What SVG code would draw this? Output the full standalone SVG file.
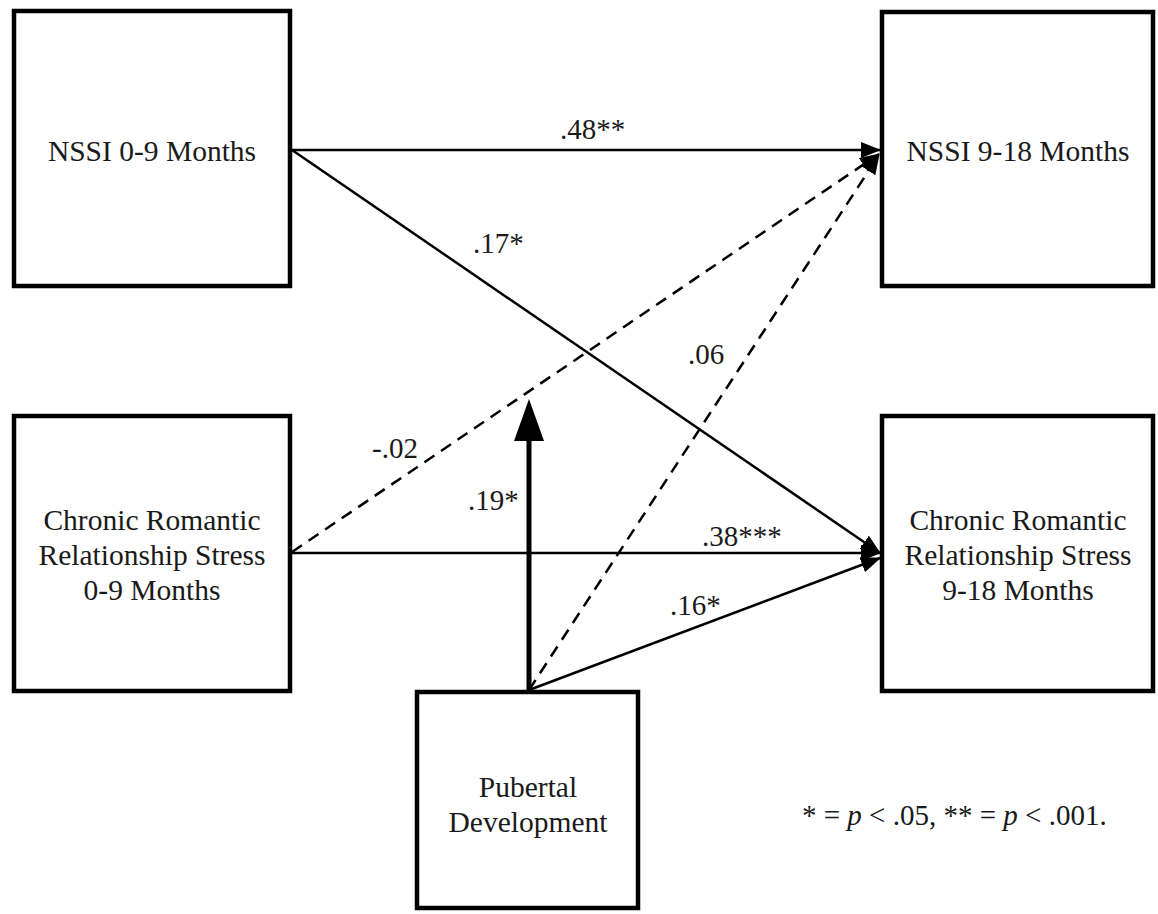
<svg xmlns="http://www.w3.org/2000/svg" width="1158" height="914" viewBox="0 0 1158 914">
<style>
.box{fill:#fff;stroke:#000;stroke-width:4.5}
.t{font-family:"Liberation Serif","Times New Roman",serif;font-size:29.5px;fill:#1a1a1a;text-anchor:middle}
.lbl{font-family:"Liberation Serif","Times New Roman",serif;font-size:29px;fill:#1a1a1a}
.solid{stroke:#000;stroke-width:2.5;fill:none}
.dash{stroke:#000;stroke-width:2.5;fill:none;stroke-dasharray:12,8}
</style>
<defs>
<marker id="ah" markerUnits="userSpaceOnUse" markerWidth="20" markerHeight="16" refX="19" refY="8" orient="auto">
<path d="M0,0 L20,8 L0,16 z" fill="#000"/>
</marker>
</defs>
<rect width="1158" height="914" fill="#fff"/>
<g id="connectors">
<line class="solid" x1="292" y1="150" x2="880" y2="150" marker-end="url(#ah)"/>
<line class="solid" x1="292" y1="150" x2="880" y2="553" marker-end="url(#ah)"/>
<line class="dash" x1="292" y1="552" x2="879" y2="154" marker-end="url(#ah)"/>
<line class="solid" x1="292" y1="553" x2="880" y2="553" marker-end="url(#ah)"/>
<line class="dash" x1="529" y1="690" x2="879" y2="155" marker-end="url(#ah)"/>
<line class="solid" x1="529" y1="690" x2="880" y2="558" marker-end="url(#ah)"/>
<line x1="529" y1="692" x2="529" y2="435" stroke="#000" stroke-width="5"/>
<polygon points="529,399 544,441 514,441" fill="#000"/>
</g>
<g id="labels">
<text class="lbl" x="560" y="139">.48**</text>
<text class="lbl" x="473" y="253">.17*</text>
<text class="lbl" x="688" y="364">.06</text>
<text class="lbl" x="372" y="458">-.02</text>
<text class="lbl" x="468" y="510">.19*</text>
<text class="lbl" x="702" y="546">.38***</text>
<text class="lbl" x="670" y="615">.16*</text>
</g>
<g id="nssi09">
<rect class="box" x="14" y="11" width="276" height="275"/>
<text class="t" x="152" y="161">NSSI 0-9 Months</text>
</g>
<g id="nssi918">
<rect class="box" x="882" y="12" width="271" height="274"/>
<text class="t" x="1018" y="161">NSSI 9-18 Months</text>
</g>
<g id="crs09">
<rect class="box" x="14" y="416" width="276" height="275"/>
<text class="t" x="152" y="530">Chronic Romantic</text>
<text class="t" x="152" y="565">Relationship Stress</text>
<text class="t" x="152" y="600">0-9 Months</text>
</g>
<g id="crs918">
<rect class="box" x="882" y="416" width="271" height="275"/>
<text class="t" x="1018" y="530">Chronic Romantic</text>
<text class="t" x="1018" y="565">Relationship Stress</text>
<text class="t" x="1018" y="600">9-18 Months</text>
</g>
<g id="pubertal">
<rect class="box" x="417" y="692" width="221" height="216"/>
<text class="t" x="528" y="797">Pubertal</text>
<text class="t" x="528" y="832">Development</text>
</g>
<g id="note">
<text class="lbl" x="802" y="825">* = <tspan font-style="italic">p</tspan> &lt; .05, ** = <tspan font-style="italic">p</tspan> &lt; .001.</text>
</g>
</svg>
